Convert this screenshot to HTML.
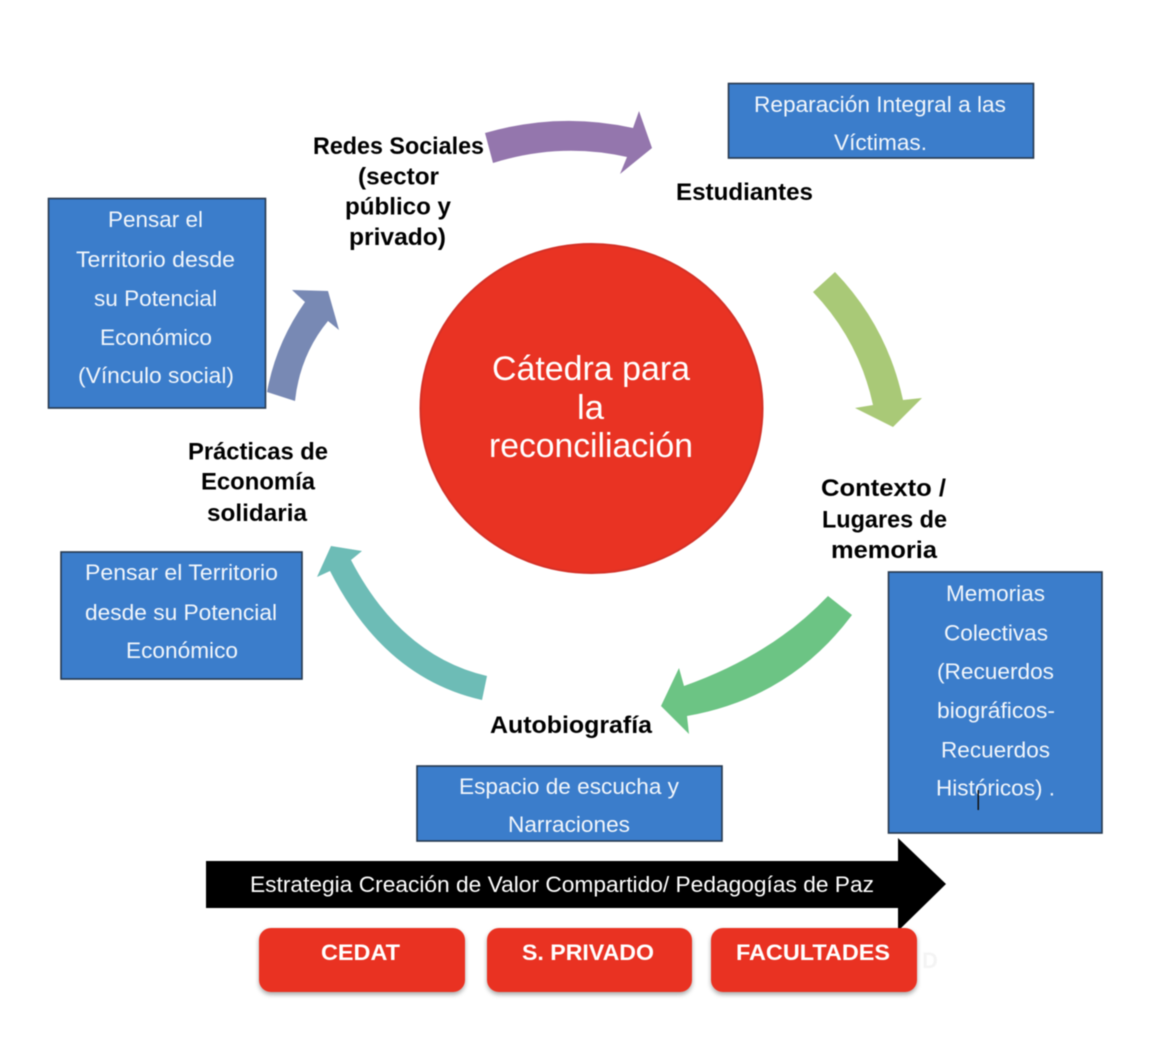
<!DOCTYPE html>
<html lang="es">
<head>
<meta charset="utf-8">
<title>Cátedra para la reconciliación</title>
<style>
html,body{margin:0;padding:0;background:#fff;width:1172px;height:1038px;overflow:hidden}
svg{display:block;filter:blur(0.5px)}
text{font-family:"Liberation Sans",sans-serif}
.w{fill:#fff;font-size:22px}
.t{fill:#f2f6fb;font-size:22px}
.b{fill:#000;font-size:24.500px;font-weight:bold}
.btn{fill:#fff;font-size:22px;font-weight:bold}
.c{fill:#fff;font-size:34px}
.box{fill:#3b7dcb;stroke:#26384f;stroke-width:1.6}
</style>
</head>
<body>
<svg width="1172" height="1038" viewBox="0 0 1172 1038" xmlns="http://www.w3.org/2000/svg">
<defs>
<filter id="sh" x="-10%" y="-10%" width="120%" height="130%"><feDropShadow dx="0" dy="2.5" stdDeviation="2.5" flood-color="#000" flood-opacity="0.35"/></filter>
</defs>

<!-- Curved arrows -->
<path d="M485 133 Q559 111.500 633 128 L639 111 L652 148 L620 174 L627 157 Q560 142 493 163 Z" fill="#9476ad"/>
<path d="M835 272 Q887 326 903 400 L922 398 L893 427 L855 408 L873 405 Q859 340 813 292 Z" fill="#a9c977"/>
<path d="M828 596 L852 615 Q790 698 687 716 L689 734 L661 706 L679 668 L684 686 Q772 655 828 596 Z" fill="#6cc484"/>
<path d="M487 676 L482 700 Q384 678 330 571 L317 577 L331 546 L362 551 L351 560 Q401 656 487 676 Z" fill="#6dbcb6"/>
<path d="M267 392 Q276 343 305 302 L292 290 L328 291 L339 330 L328 321 Q300 355 295 401 Z" fill="#7889b4"/>

<!-- Center circle -->
<ellipse cx="591.500" cy="408.500" rx="171" ry="164.500" fill="#e93323" stroke="#d43127" stroke-width="2"/>
<text class="c" x="492" y="380" textLength="198" lengthAdjust="spacingAndGlyphs">Cátedra para</text>
<text class="c" x="577" y="419" textLength="27" lengthAdjust="spacingAndGlyphs">la</text>
<text class="c" x="489" y="457" textLength="204" lengthAdjust="spacingAndGlyphs">reconciliación</text>

<!-- Blue boxes -->
<rect class="box" x="728.500" y="83.500" width="305" height="74.500"/>
<text class="t" x="754" y="112" textLength="252" lengthAdjust="spacingAndGlyphs">Reparación Integral a las</text>
<text class="t" x="834" y="150" textLength="93" lengthAdjust="spacingAndGlyphs">Víctimas.</text>

<rect class="box" x="48.500" y="198.500" width="217" height="209.500"/>
<text class="t" x="108" y="227" textLength="95" lengthAdjust="spacingAndGlyphs">Pensar el</text>
<text class="t" x="76" y="267" textLength="159" lengthAdjust="spacingAndGlyphs">Territorio desde</text>
<text class="t" x="94" y="306" textLength="123" lengthAdjust="spacingAndGlyphs">su Potencial</text>
<text class="t" x="100" y="345" textLength="112" lengthAdjust="spacingAndGlyphs">Económico</text>
<text class="t" x="78" y="383" textLength="156" lengthAdjust="spacingAndGlyphs">(Vínculo social)</text>

<rect class="box" x="61" y="552" width="241" height="127"/>
<text class="t" x="85" y="580" textLength="193" lengthAdjust="spacingAndGlyphs">Pensar el Territorio</text>
<text class="t" x="85" y="620" textLength="192" lengthAdjust="spacingAndGlyphs">desde su Potencial</text>
<text class="t" x="126" y="658" textLength="112" lengthAdjust="spacingAndGlyphs">Económico</text>

<rect class="box" x="417" y="766" width="305" height="75"/>
<text class="t" x="459" y="794" textLength="220" lengthAdjust="spacingAndGlyphs">Espacio de escucha y</text>
<text class="t" x="508" y="832" textLength="122" lengthAdjust="spacingAndGlyphs">Narraciones</text>

<rect class="box" x="888.500" y="572" width="213.500" height="261"/>
<text class="t" x="946" y="601" textLength="99" lengthAdjust="spacingAndGlyphs">Memorias</text>
<text class="t" x="944" y="640.500" textLength="104" lengthAdjust="spacingAndGlyphs">Colectivas</text>
<text class="t" x="937" y="679" textLength="117" lengthAdjust="spacingAndGlyphs">(Recuerdos</text>
<text class="t" x="937" y="718" textLength="118" lengthAdjust="spacingAndGlyphs">biográficos-</text>
<text class="t" x="941" y="757.500" textLength="109" lengthAdjust="spacingAndGlyphs">Recuerdos</text>
<text class="t" x="936" y="795.500" textLength="119" lengthAdjust="spacingAndGlyphs">Históricos) .</text>
<rect x="977.500" y="790" width="1.500" height="20" fill="#111"/>

<!-- Black arrow -->
<polygon points="206,861 898,861 898,838 946,884 898,931 898,908 206,908" fill="#000"/>
<text class="w" x="250" y="892" textLength="624" lengthAdjust="spacingAndGlyphs">Estrategia Creación de Valor Compartido/ Pedagogías de Paz</text>

<!-- Red buttons -->
<text x="922" y="968" font-size="22" font-weight="bold" fill="#f4f4f4">D</text>
<rect x="259" y="928" width="206" height="64" rx="12" fill="#e93323" filter="url(#sh)"/>
<rect x="487" y="928" width="205" height="64" rx="12" fill="#e93323" filter="url(#sh)"/>
<rect x="711" y="928" width="206" height="64" rx="12" fill="#e93323" filter="url(#sh)"/>
<text class="btn" x="321" y="960" textLength="79" lengthAdjust="spacingAndGlyphs">CEDAT</text>
<text class="btn" x="522" y="960" textLength="132" lengthAdjust="spacingAndGlyphs">S. PRIVADO</text>
<text class="btn" x="736" y="960" textLength="154" lengthAdjust="spacingAndGlyphs">FACULTADES</text>

<!-- Bold labels -->
<text class="b" x="313" y="154" textLength="171" lengthAdjust="spacingAndGlyphs">Redes Sociales</text>
<text class="b" x="358" y="184.500" textLength="81" lengthAdjust="spacingAndGlyphs">(sector</text>
<text class="b" x="345" y="214.500" textLength="106" lengthAdjust="spacingAndGlyphs">público y</text>
<text class="b" x="349" y="245" textLength="97" lengthAdjust="spacingAndGlyphs">privado)</text>

<text class="b" x="676" y="200" textLength="137" lengthAdjust="spacingAndGlyphs">Estudiantes</text>

<text class="b" x="821" y="496" textLength="125" lengthAdjust="spacingAndGlyphs">Contexto /</text>
<text class="b" x="822" y="527.500" textLength="125" lengthAdjust="spacingAndGlyphs">Lugares de</text>
<text class="b" x="831" y="558" textLength="106" lengthAdjust="spacingAndGlyphs">memoria</text>

<text class="b" x="490" y="733" textLength="162" lengthAdjust="spacingAndGlyphs">Autobiografía</text>

<text class="b" x="188" y="459.500" textLength="140" lengthAdjust="spacingAndGlyphs">Prácticas de</text>
<text class="b" x="201" y="489.500" textLength="114" lengthAdjust="spacingAndGlyphs">Economía</text>
<text class="b" x="207" y="521" textLength="100" lengthAdjust="spacingAndGlyphs">solidaria</text>
</svg>
</body>
</html>
